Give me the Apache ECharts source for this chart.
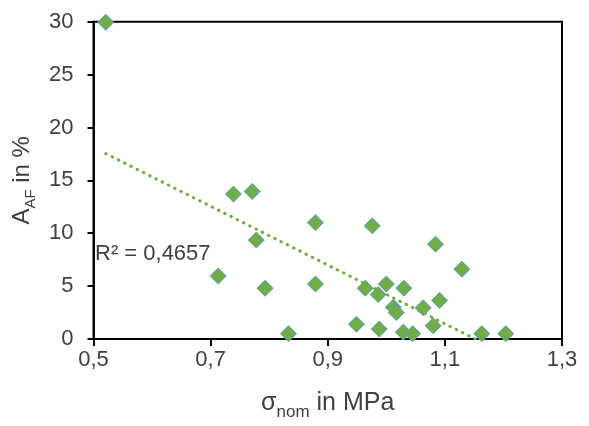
<!DOCTYPE html>
<html>
<head>
<meta charset="utf-8">
<script src="https://cdn.jsdelivr.net/npm/echarts@6/dist/echarts.min.js"></script>
<style>
  html, body { margin: 0; padding: 0; background: #fff; }
  #chart { width: 589px; height: 426px; }
</style>
</head>
<body>
<div id="chart"></div>
<script>
// Nominal stress (MPa) and area fraction A_AF (%) per specimen
var sigmaNom = [0.521, 0.713, 0.739, 0.771, 0.778, 0.793, 0.833, 0.879, 0.879,
                0.949, 0.964, 0.976, 0.986, 0.988, 1.000, 1.012, 1.017, 1.029,
                1.030, 1.045, 1.063, 1.080, 1.084, 1.091, 1.129, 1.163, 1.204];
var aAF = [29.94, 5.95, 13.7, 13.95, 9.35, 4.8, 0.5, 11.0, 5.2,
           1.4, 4.8, 10.7, 4.2, 0.94, 5.2, 3.0, 2.5, 0.65,
           4.8, 0.5, 2.95, 1.25, 8.97, 3.65, 6.6, 0.5, 0.5];

// Linear trendline as shown on the chart (y = a + b*x), with its R² label
var trendIntercept = 32.0;
var trendSlope = -27.78;
var trendLabel = 'R² = 0,4657';

// Axis ranges and tick steps
var xTicks = [0.5, 0.7, 0.9, 1.1, 1.3];
var yTicks = [0, 5, 10, 15, 20, 25, 30];

var points = sigmaNom.map(function (x, i) { return [x, aAF[i]]; });
var xStart = Math.min.apply(null, sigmaNom);
var xZero = -trendIntercept / trendSlope;
var trend = [[xStart, trendIntercept + trendSlope * xStart], [xZero, 0]];

var txt = '#404040';
var font = 'Liberation Sans';

var chart = echarts.init(document.getElementById('chart'));
chart.setOption({
  animation: false,
  backgroundColor: '#fff',
  grid: {
    left: 93.5, right: 27, top: 21.7, bottom: 84.3,
    show: true, borderColor: '#000', borderWidth: 2, backgroundColor: 'transparent'
  },
  xAxis: {
    type: 'value',
    min: xTicks[0], max: xTicks[xTicks.length - 1], interval: 0.2,
    axisLine: { show: true, lineStyle: { color: '#000', width: 2 } },
    axisTick: { show: true, length: 7, lineStyle: { color: '#000', width: 2 } },
    splitLine: { show: false },
    axisLabel: {
      color: txt, fontFamily: font, fontSize: 22, margin: 10,
      formatter: function (v) { return v.toFixed(1).replace('.', ','); }
    },
    name: '{m|σ}{s|nom}{m| in MPa}',
    nameLocation: 'middle',
    nameGap: 52,
    nameTextStyle: {
      rich: {
        m: { fontFamily: font, fontSize: 25, color: txt, lineHeight: 28, verticalAlign: 'top' },
        s: { fontFamily: font, fontSize: 17, color: txt, lineHeight: 17, verticalAlign: 'top', padding: [13, 0, 0, 0] }
      }
    }
  },
  yAxis: {
    type: 'value',
    min: yTicks[0], max: yTicks[yTicks.length - 1], interval: 5,
    axisLine: { show: true, lineStyle: { color: '#000', width: 2 } },
    axisTick: { show: true, length: 6, lineStyle: { color: '#000', width: 2 } },
    splitLine: { show: false },
    axisLabel: { color: txt, fontFamily: font, fontSize: 22, margin: 20 },
    name: '{m|A}{s|AF}{m| in %}',
    nameLocation: 'middle',
    nameRotate: 90,
    nameGap: 53,
    nameTextStyle: {
      rich: {
        m: { fontFamily: font, fontSize: 24, color: txt, lineHeight: 27, verticalAlign: 'top' },
        s: { fontFamily: font, fontSize: 15, color: txt, lineHeight: 15, verticalAlign: 'top', padding: [13, 0, 0, 0] }
      }
    }
  },
  graphic: [{
    type: 'text',
    left: 95, top: 243,
    style: { text: trendLabel, fill: txt, font: '22px "Liberation Sans"' },
    z: 10
  }],
  series: [
    {
      type: 'scatter',
      data: points,
      symbol: 'diamond',
      symbolSize: 16,
      itemStyle: { color: '#70AD47', borderColor: '#5B9BD5', borderWidth: 1, opacity: 1 },
      z: 2
    },
    {
      type: 'line',
      data: trend,
      symbol: 'none',
      clip: true,
      lineStyle: { color: '#70AD47', width: 3, type: [0.5, 6.5], cap: 'round' },
      z: 3
    }
  ]
});
</script>
</body>
</html>
